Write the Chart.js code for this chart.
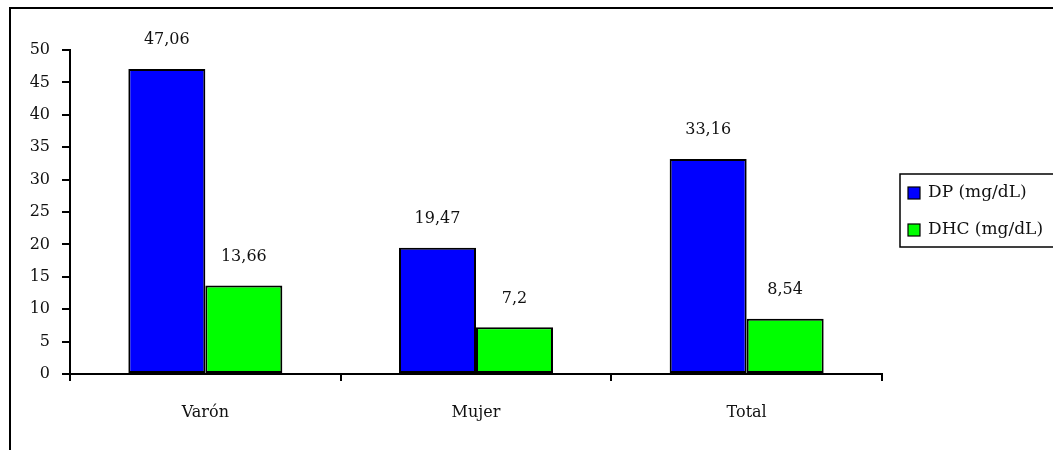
<!DOCTYPE html>
<html>
<head>
<meta charset="utf-8">
<style>
  html, body { margin: 0; padding: 0; background: #fff; }
  #wrap { width: 1053px; height: 450px; position: relative; }
</style>
<script src="https://cdn.jsdelivr.net/npm/chart.js@4"></script>
</head>
<body>
<div id="wrap"><canvas id="c" width="1053" height="450"></canvas></div>
<script>
const categories = ['Varón', 'Mujer', 'Total'];
const dpValues = [47.06, 19.47, 33.16];
const dhcValues = [13.66, 7.2, 8.54];
const seriesNames = ['DP (mg/dL)', 'DHC (mg/dL)'];
const yTicks = [0, 5, 10, 15, 20, 25, 30, 35, 40, 45, 50];

const FONT = '"DejaVu Serif", "Liberation Serif", serif';
const fmt = v => String(v).replace('.', ',');

// Outer frame, value labels above bars and a boxed legend on the right
const decorations = {
  id: 'decorations',
  afterDatasetsDraw(chart) {
    const ctx = chart.ctx;
    ctx.save();
    // value labels
    ctx.font = '16px ' + FONT;
    ctx.fillStyle = '#111';
    ctx.textAlign = 'center';
    ctx.textBaseline = 'middle';
    chart.data.datasets.forEach((ds, i) => {
      chart.getDatasetMeta(i).data.forEach((bar, j) => {
        ctx.fillText(fmt(ds.data[j]), bar.x, bar.y - 29);
      });
    });
    // outer frame
    ctx.strokeStyle = '#000';
    ctx.lineWidth = 2;
    ctx.strokeRect(10, 8, 1100, 500);
    // legend
    const lx = 900, ly = 174, lh = 73;
    ctx.lineWidth = 1.5;
    ctx.strokeRect(lx, ly, 200, lh);
    ctx.font = '17px ' + FONT;
    ctx.textAlign = 'left';
    chart.data.datasets.forEach((ds, i) => {
      const cy = ly + 19 + i * 37;
      ctx.fillStyle = ds.backgroundColor;
      ctx.fillRect(lx + 8, cy - 6, 12, 12);
      ctx.lineWidth = 1.2;
      ctx.strokeStyle = '#000';
      ctx.strokeRect(lx + 8, cy - 6, 12, 12);
      ctx.fillStyle = '#111';
      ctx.fillText(ds.label, lx + 28, cy);
    });
    ctx.restore();
  }
};

new Chart(document.getElementById('c'), {
  type: 'bar',
  data: {
    labels: categories,
    datasets: [
      { label: seriesNames[0], data: dpValues, backgroundColor: '#0000FF', borderColor: '#000', borderWidth: 2, borderSkipped: false },
      { label: seriesNames[1], data: dhcValues, backgroundColor: '#00FF00', borderColor: '#000', borderWidth: 2, borderSkipped: false }
    ]
  },
  options: {
    responsive: false,
    animation: false,
    events: [],
    layout: { padding: { top: 50, right: 171, bottom: 0, left: 0 } },
    datasets: { bar: { categoryPercentage: 0.569, barPercentage: 1.0 } },
    plugins: { legend: { display: false }, tooltip: { enabled: false } },
    scales: {
      x: {
        offset: true,
        grid: { offset: true, drawOnChartArea: false, drawTicks: true, tickLength: 7, color: '#000', lineWidth: 2 },
        border: { display: true, color: '#000', width: 2 },
        ticks: { color: '#111', font: { family: FONT, size: 16 }, padding: 22 },
        afterFit(scale) { scale.height = 76; }
      },
      y: {
        min: 0, max: 50,
        afterBuildTicks(scale) { scale.ticks = yTicks.map(v => ({ value: v })); },
        grid: { drawOnChartArea: false, drawTicks: true, tickLength: 8, color: '#000', lineWidth: 2 },
        border: { display: true, color: '#000', width: 2 },
        ticks: { color: '#111', font: { family: FONT, size: 16 }, padding: 12 },
        afterFit(scale) { scale.width = 70; }
      }
    }
  },
  plugins: [decorations]
});
</script>
</body>
</html>
